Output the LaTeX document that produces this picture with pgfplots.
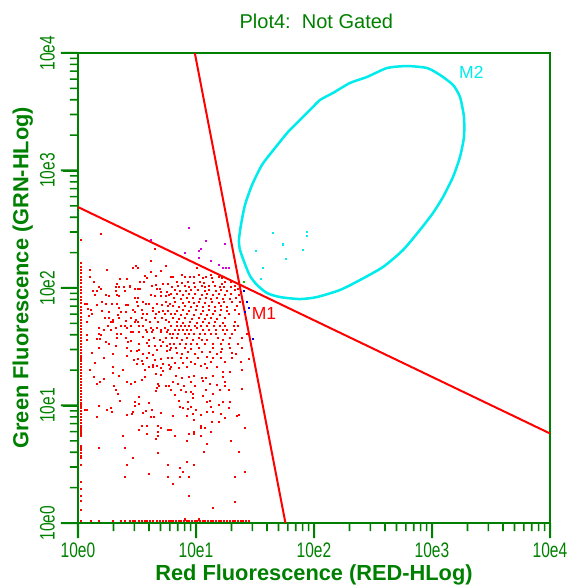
\documentclass[border=0pt]{standalone}
\usepackage{pgfplots}
\pgfplotsset{compat=1.18}
\usepackage{fontspec}
\setmainfont{Liberation Sans}
\newfontfamily\narrowsans[FakeStretch=0.74]{Liberation Sans}
\definecolor{grn}{RGB}{0,128,0}
\definecolor{gatecyan}{RGB}{0,235,235}
\definecolor{dotmag}{RGB}{210,0,210}
\definecolor{dotblue}{RGB}{0,0,220}
\definecolor{dotgrn}{RGB}{0,200,0}

% dot plot, both axes in decades (0 = 10e0 ... 4 = 10e4)
\pgfplotstableread{
lx ly
0.198 2.457
0.650 2.329
0.622 2.230
0.492 2.190
0.508 2.167
0.463 2.167
0.243 2.153
0.105 2.153
0.746 2.190
0.706 2.145
0.616 2.136
0.102 2.091
0.785 2.091
0.661 2.105
0.571 2.099
0.588 2.082
0.356 2.077
0.418 2.080
0.525 2.048
0.557 2.048
0.441 2.020
0.441 2.009
0.328 2.031
0.322 2.009
0.350 2.009
0.136 2.048
0.181 2.009
0.198 1.992
0.390 2.009
0.486 1.992
0.508 1.992
0.525 1.992
0.627 2.020
0.661 2.026
0.667 1.992
0.695 1.992
0.723 2.031
0.763 2.037
0.124 1.975
0.158 1.975
0.322 1.975
0.396 1.975
0.701 1.969
0.751 1.969
0.141 1.940
0.237 1.940
0.260 1.935
0.328 1.940
0.345 1.929
0.486 1.912
0.508 1.912
0.622 1.940
0.650 1.935
0.701 1.929
0.746 1.929
0.768 1.940
0.057 1.867
0.079 1.867
0.164 1.855
0.203 1.884
0.237 1.867
0.288 1.867
0.328 1.867
0.345 1.833
0.407 1.855
0.424 1.855
0.503 1.878
0.508 1.844
0.548 1.884
0.576 1.867
0.605 1.867
0.638 1.833
0.672 1.867
0.712 1.855
0.746 1.884
0.763 1.850
0.780 1.867
0.085 1.821
0.113 1.810
0.119 1.782
0.203 1.804
0.266 1.799
0.339 1.770
0.362 1.793
0.407 1.793
0.463 1.810
0.486 1.793
0.542 1.810
0.554 1.776
0.582 1.782
0.633 1.804
0.661 1.776
0.684 1.799
0.718 1.804
0.740 1.776
0.763 1.804
0.785 1.776
0.096 1.765
0.226 1.748
0.260 1.748
0.294 1.731
0.345 1.748
0.452 1.742
0.492 1.731
0.508 1.708
0.542 1.748
0.576 1.731
0.610 1.714
0.655 1.748
0.678 1.714
0.712 1.742
0.746 1.731
0.774 1.708
0.079 1.708
0.277 1.714
0.299 1.708
0.407 1.719
0.480 1.708
1.006 2.173
0.802 2.093
0.881 2.110
0.904 2.093
0.949 2.093
0.983 2.093
1.029 2.110
1.062 2.082
1.085 2.093
1.130 2.110
1.136 2.082
1.198 2.093
1.221 2.082
0.836 2.048
0.881 2.042
0.933 2.048
0.983 2.042
1.034 2.054
1.068 2.042
1.147 2.048
1.221 2.037
1.249 2.054
1.300 2.048
0.797 2.008
0.848 2.014
0.910 2.014
0.938 2.008
0.995 2.008
1.051 2.020
1.079 2.008
1.107 2.014
1.164 2.014
1.204 2.008
1.238 2.008
1.294 2.008
1.328 2.020
0.819 1.980
0.864 1.974
0.916 1.974
0.961 1.980
1.017 1.980
1.074 1.974
1.107 1.980
1.170 1.974
1.209 1.980
1.266 1.974
1.334 1.980
1.356 1.991
0.791 1.946
0.842 1.946
0.893 1.940
0.944 1.946
0.995 1.946
1.051 1.940
1.096 1.946
1.142 1.940
1.192 1.946
1.243 1.940
1.300 1.946
1.367 1.940
0.814 1.912
0.876 1.906
0.927 1.912
0.978 1.912
1.034 1.906
1.085 1.912
1.125 1.906
1.175 1.912
1.232 1.906
1.289 1.906
1.339 1.912
0.825 1.878
0.887 1.872
0.938 1.878
0.983 1.872
1.023 1.878
1.074 1.872
1.136 1.878
1.192 1.872
1.238 1.878
1.305 1.884
1.373 1.878
0.808 1.844
0.859 1.838
0.910 1.844
0.961 1.838
1.012 1.844
1.062 1.838
1.113 1.844
1.164 1.838
1.215 1.844
1.266 1.838
1.345 1.844
0.842 1.804
0.893 1.810
0.944 1.804
1.000 1.810
1.057 1.804
1.107 1.810
1.159 1.804
1.209 1.810
1.260 1.804
1.334 1.810
0.825 1.776
0.876 1.770
0.927 1.776
0.983 1.770
1.040 1.776
1.091 1.770
1.142 1.776
1.204 1.770
1.277 1.776
1.362 1.776
0.808 1.742
0.859 1.736
0.910 1.742
0.966 1.736
1.023 1.742
1.074 1.736
1.130 1.742
1.181 1.736
1.243 1.742
0.836 1.708
0.893 1.702
0.949 1.708
1.006 1.702
1.062 1.708
1.113 1.702
1.164 1.708
1.232 1.702
1.334 1.708
0.181 1.662
0.220 1.645
0.254 1.679
0.277 1.645
0.322 1.662
0.362 1.679
0.396 1.679
0.418 1.662
0.446 1.679
0.514 1.679
0.548 1.679
0.576 1.645
0.616 1.662
0.638 1.645
0.672 1.662
0.706 1.645
0.735 1.662
0.763 1.645
0.079 1.600
0.181 1.606
0.198 1.600
0.328 1.611
0.362 1.606
0.446 1.628
0.463 1.623
0.520 1.628
0.588 1.628
0.627 1.628
0.706 1.623
0.751 1.628
0.780 1.606
0.079 1.555
0.164 1.566
0.186 1.566
0.333 1.577
0.407 1.577
0.452 1.549
0.548 1.583
0.605 1.555
0.644 1.572
0.695 1.560
0.746 1.572
0.237 1.543
0.266 1.526
0.424 1.543
0.520 1.526
0.582 1.532
0.723 1.537
0.780 1.520
0.322 1.503
0.418 1.486
0.605 1.503
0.650 1.509
0.706 1.503
0.751 1.503
0.181 1.486
0.446 1.464
0.503 1.464
0.520 1.469
0.672 1.469
0.757 1.464
0.780 1.469
0.119 1.447
0.294 1.441
0.548 1.441
0.605 1.447
0.638 1.430
0.418 1.418
0.582 1.401
0.706 1.396
0.763 1.407
0.220 1.401
0.475 1.390
0.508 1.396
0.542 1.379
0.655 1.384
0.141 1.362
0.497 1.350
0.548 1.350
0.633 1.345
0.723 1.356
0.774 1.345
0.299 1.328
0.605 1.328
0.638 1.328
0.672 1.333
0.706 1.322
0.780 1.311
0.102 1.299
0.379 1.305
0.565 1.305
0.723 1.294
0.294 1.276
0.661 1.265
0.706 1.259
0.136 1.242
0.220 1.225
0.350 1.254
0.565 1.242
0.542 1.220
0.158 1.186
0.186 1.203
0.418 1.203
0.452 1.186
0.480 1.197
0.678 1.186
0.746 1.163
0.768 1.169
0.684 1.169
0.305 1.169
0.672 1.146
0.322 1.135
0.661 1.123
0.339 1.095
0.356 1.038
0.486 1.032
0.514 1.072
0.599 1.021
0.062 0.959
0.079 0.959
0.181 0.993
0.249 0.964
0.277 0.976
0.288 0.947
0.480 0.993
0.520 1.015
0.463 0.947
0.418 0.919
0.458 0.925
0.548 0.936
0.576 0.953
0.627 0.959
0.706 0.936
0.164 0.902
0.622 0.902
0.644 0.902
0.791 1.679
0.842 1.679
0.876 1.679
0.910 1.679
0.944 1.679
0.995 1.679
1.046 1.679
1.096 1.679
1.153 1.679
1.204 1.679
1.249 1.679
1.322 1.679
0.820 1.645
0.859 1.645
0.893 1.645
0.927 1.645
0.961 1.645
1.006 1.657
1.063 1.645
1.113 1.645
1.170 1.645
1.226 1.645
1.266 1.645
1.334 1.645
1.356 1.674
0.808 1.611
0.848 1.611
0.904 1.611
0.944 1.611
0.983 1.611
1.034 1.611
1.074 1.611
1.125 1.611
1.170 1.611
1.243 1.611
1.305 1.611
0.797 1.572
0.836 1.572
0.882 1.555
0.927 1.572
0.972 1.560
1.023 1.572
1.051 1.555
1.096 1.560
1.187 1.572
1.226 1.555
1.289 1.572
1.390 1.572
1.435 1.606
0.814 1.520
0.865 1.520
0.916 1.526
0.955 1.520
1.006 1.526
1.074 1.526
1.142 1.526
1.209 1.520
1.277 1.520
1.356 1.526
0.786 1.486
0.831 1.486
0.904 1.486
0.961 1.481
1.029 1.486
1.147 1.486
1.221 1.481
1.289 1.486
1.390 1.486
0.842 1.447
0.882 1.441
0.933 1.452
0.989 1.441
1.051 1.452
1.119 1.458
1.176 1.441
1.209 1.452
1.305 1.447
1.339 1.441
0.797 1.407
0.870 1.407
0.921 1.401
1.017 1.407
1.091 1.413
1.147 1.401
1.215 1.407
1.305 1.401
1.452 1.396
0.820 1.362
0.887 1.362
0.955 1.367
0.995 1.356
1.074 1.356
1.125 1.367
1.243 1.367
1.379 1.367
0.791 1.328
0.859 1.322
0.921 1.328
1.040 1.333
1.091 1.322
1.176 1.328
1.232 1.288
1.289 1.282
1.390 1.305
0.831 1.248
0.882 1.231
0.938 1.242
0.983 1.248
1.051 1.237
1.085 1.231
1.142 1.254
1.232 1.242
0.808 1.203
0.848 1.186
0.899 1.169
0.961 1.197
0.995 1.163
1.057 1.208
1.119 1.186
1.176 1.174
1.249 1.203
1.243 1.163
0.786 1.135
0.870 1.129
0.916 1.118
0.955 1.118
1.085 1.135
1.204 1.135
1.277 1.129
1.390 1.140
0.825 1.089
0.978 1.095
1.142 1.095
1.063 1.083
0.853 1.038
0.933 1.032
0.972 1.066
1.091 1.032
1.119 1.038
1.226 1.027
1.289 1.027
0.865 0.987
0.887 0.981
0.933 0.970
0.961 0.987
1.000 0.964
1.125 0.987
1.198 1.001
1.283 0.976
0.803 0.907
0.921 0.907
0.978 0.925
1.046 0.919
1.096 0.942
1.147 0.942
1.209 0.925
1.249 0.891
1.351 0.913
1.368 0.919
0.983 0.874
1.136 0.862
1.192 0.857
0.542 0.828
0.588 0.828
0.678 0.828
0.706 0.811
0.520 0.794
0.588 0.755
0.678 0.772
0.780 0.794
0.763 0.794
0.384 0.738
0.678 0.738
0.661 0.715
0.181 0.635
0.401 0.635
0.678 0.596
0.463 0.550
0.418 0.494
0.763 0.494
0.605 0.414
0.401 0.392
0.763 0.392
0.786 0.794
1.046 0.828
1.046 0.811
1.074 0.811
1.413 0.811
0.825 0.738
0.944 0.755
0.983 0.772
0.983 0.755
1.130 0.772
1.046 0.738
0.927 0.698
1.091 0.675
1.294 0.698
1.068 0.607
1.368 0.607
0.927 0.516
0.983 0.494
0.865 0.471
0.887 0.431
1.413 0.431
0.865 0.389
0.944 0.389
1.334 0.389
0.808 0.329
0.944 0.227
1.334 0.182
1.147 0.125
0.910 0.030
1.029 0.030
}\reddots

% events piled up on the lowest channel of either axis
\pgfplotstableread{
lx ly
0.022 2.409
0.022 2.210
0.022 2.182
0.022 2.153
0.022 2.125
0.022 2.097
0.022 2.068
0.022 2.040
0.022 2.011
0.022 1.983
0.022 1.955
0.022 1.926
0.022 1.898
0.022 1.870
0.022 1.841
0.022 1.813
0.022 1.785
0.022 1.756
0.022 1.728
0.022 1.699
0.022 1.675
0.022 1.650
0.022 1.625
0.022 1.600
0.022 1.575
0.022 1.550
0.022 1.525
0.022 1.500
0.022 1.475
0.022 1.450
0.022 1.425
0.022 1.400
0.022 1.375
0.022 1.350
0.022 1.325
0.022 1.300
0.022 1.275
0.022 1.250
0.022 1.225
0.022 1.200
0.022 1.175
0.022 1.150
0.022 1.125
0.022 1.100
0.022 1.075
0.022 1.050
0.022 1.025
0.022 1.000
0.022 0.975
0.022 0.950
0.022 0.925
0.022 0.900
0.022 0.875
0.022 0.850
0.022 0.828
0.022 0.811
0.022 0.794
0.022 0.777
0.022 0.760
0.022 0.743
0.022 0.652
0.022 0.635
0.022 0.618
0.022 0.596
0.022 0.573
0.022 0.550
0.022 0.494
0.022 0.352
0.022 0.289
0.022 0.227
0.022 0.187
0.022 0.108
0.022 0.016
0.107 0.016
0.181 0.016
0.299 0.016
0.362 0.016
0.401 0.016
0.441 0.016
0.463 0.016
0.486 0.016
0.520 0.016
0.542 0.016
0.565 0.016
0.588 0.016
0.610 0.016
0.638 0.016
0.667 0.016
0.695 0.016
0.723 0.016
0.746 0.016
0.768 0.016
0.785 0.016
0.808 0.016
0.831 0.016
0.853 0.016
0.876 0.016
0.899 0.016
0.921 0.016
0.944 0.016
0.966 0.016
0.989 0.016
1.012 0.016
1.034 0.016
1.057 0.016
1.079 0.016
1.102 0.016
1.125 0.016
1.147 0.016
1.170 0.016
1.192 0.016
1.215 0.016
1.238 0.016
1.266 0.016
1.289 0.016
1.311 0.016
1.334 0.016
1.356 0.016
1.379 0.016
1.401 0.016
1.424 0.016
1.452 0.016
}\edgedots

% M2 gate outline
\pgfplotstableread{
lx ly
2.788 3.889
2.958 3.872
3.068 3.813
3.178 3.728
3.237 3.626
3.271 3.455
3.271 3.285
3.237 3.115
3.178 2.945
3.093 2.774
3.008 2.638
2.898 2.494
2.754 2.323
2.585 2.179
2.390 2.068
2.220 1.983
2.025 1.923
1.881 1.906
1.712 1.923
1.602 1.957
1.517 2.026
1.458 2.102
1.415 2.204
1.373 2.323
1.364 2.409
1.381 2.536
1.415 2.706
1.475 2.877
1.559 3.047
1.669 3.191
1.780 3.328
1.881 3.430
1.966 3.515
2.051 3.600
2.161 3.660
2.305 3.745
2.449 3.796
2.619 3.872
}\gatemtwo

\begin{document}
\begin{tikzpicture}
\path[use as bounding box] (-78pt,-64pt) rectangle (497pt,523pt);
\begin{axis}[
    at={(0pt,0pt)}, anchor=south west,
    scale only axis, width=472pt, height=470pt,
    xmin=0, xmax=4, ymin=0, ymax=4,
    clip=false,
    axis line style={grn, line width=2pt},
    xtick align=outside, ytick align=outside,
    xtick pos=bottom, ytick pos=left,
    major tick length=15pt, minor tick length=8pt,
    major tick style={draw=grn, line width=2pt},
    minor tick style={draw=grn, line width=1.6pt},
    xtick={0,1,2,3,4}, ytick={0,1,2,3,4},
    xticklabels={10e0,10e1,10e2,10e3,10e4},
    yticklabels={10e0,10e1,10e2,10e3,10e4},
    tick label style={font=\narrowsans\fontsize{21}{21}\selectfont, text=grn, inner sep=0pt},
    xticklabel style={anchor=north},
    yticklabel style={rotate=90, anchor=south},
    xticklabel shift=5pt, yticklabel shift=8pt,
    title={Plot4:\ \ Not Gated},
    every axis title/.style={at={(axis description cs:0.505,1.053)}, anchor=base,
        font=\fontsize{20}{20}\selectfont, text=grn, inner sep=0pt},
    xlabel={Red Fluorescence (RED-HLog)},
    every axis x label/.style={at={(axis description cs:0.5,-0.1234)}, anchor=base,
        font=\bfseries\fontsize{21.8}{22}\selectfont, text=grn, inner sep=0pt},
    ylabel={Green Fluorescence (GRN-HLog)},
    every axis y label/.style={at={(axis description cs:-0.1049,0.522)}, rotate=90, anchor=base,
        font=\bfseries\fontsize{21.8}{22}\selectfont, text=grn, inner sep=0pt},
]
% events
\addplot[red, only marks, mark=square*, mark size=0.55pt, mark options={solid, fill=red, draw=red, line width=0pt}]
    table[x=lx, y=ly] {\reddots};
\addplot[red, only marks, mark=square*, mark size=0.55pt, mark options={solid, fill=red, draw=red, line width=0pt}]
    table[x=lx, y=ly] {\edgedots};
\addplot[dotmag, only marks, mark=square*, mark size=0.55pt, mark options={solid, fill=dotmag, draw=dotmag, line width=0pt}]
    coordinates {(0.622,2.411) (0.944,2.513) (1.085,2.400) (1.249,2.371) (1.046,2.332)
                 (1.029,2.315) (0.907,2.298) (1.029,2.252) (1.130,2.230) (1.198,2.196)
                 (1.232,2.173) (1.255,2.167) (1.277,2.167)};
\addplot[dotblue, only marks, mark=square*, mark size=0.55pt, mark options={solid, fill=dotblue, draw=dotblue, line width=0pt}]
    coordinates {(1.407,1.974) (1.430,1.884) (1.452,1.827) (1.418,1.798) (1.486,1.566)};
\addplot[dotgrn, only marks, mark=square*, mark size=0.55pt, mark options={solid, fill=dotgrn, draw=dotgrn, line width=0pt}]
    coordinates {(1.407,2.048)};
\addplot[gatecyan, only marks, mark=square*, mark size=0.55pt, mark options={solid, fill=gatecyan, draw=gatecyan, line width=0pt}]
    coordinates {(1.509,2.315) (1.571,2.167) (1.554,2.076) (1.94,2.48) (1.94,2.44)
                 (1.91,2.32) (1.65,2.47) (1.74,2.37) (1.76,2.25)};
% M2 gate
\addplot[gatecyan, line width=2.5pt, smooth cycle, tension=0.4] table[x=lx, y=ly] {\gatemtwo};
% M1 quadrant lines
\addplot[red, line width=2pt] coordinates {(0.990,4) (1.758,0)};
\addplot[red, line width=2pt] coordinates {(0,2.689) (4,0.762)};
\node[anchor=west, inner sep=0pt, text=red, font=\fontsize{17.5}{17.5}\selectfont]
    at (axis cs:1.472,1.779) {M1};
\node[anchor=west, inner sep=0pt, text=gatecyan, font=\fontsize{17.5}{17.5}\selectfont]
    at (axis cs:3.229,3.838) {M2};
\end{axis}
% log ticks as filled bars (box is 472pt x 470pt: a decade is 118pt across and 117.5pt up)
\fill[grn]
  (0pt,0pt) ++(-1pt,-15pt) rectangle ++(2pt,15pt)
  (118pt,0pt) ++(-1pt,-15pt) rectangle ++(2pt,15pt)
  (236pt,0pt) ++(-1pt,-15pt) rectangle ++(2pt,15pt)
  (354pt,0pt) ++(-1pt,-15pt) rectangle ++(2pt,15pt)
  (472pt,0pt) ++(-1pt,-15pt) rectangle ++(2pt,15pt)
  (0pt,0pt) ++(-17pt,-1pt) rectangle ++(17pt,2pt)
  (0pt,117.5pt) ++(-17pt,-1pt) rectangle ++(17pt,2pt)
  (0pt,235pt) ++(-17pt,-1pt) rectangle ++(17pt,2pt)
  (0pt,352.5pt) ++(-17pt,-1pt) rectangle ++(17pt,2pt)
  (0pt,470pt) ++(-17pt,-1pt) rectangle ++(17pt,2pt);
\fill[grn]
  (35.5pt,0pt) ++(-0.8pt,-8pt) rectangle ++(1.6pt,8pt)
  (56.3pt,0pt) ++(-0.8pt,-8pt) rectangle ++(1.6pt,8pt)
  (71.0pt,0pt) ++(-0.8pt,-8pt) rectangle ++(1.6pt,8pt)
  (82.5pt,0pt) ++(-0.8pt,-8pt) rectangle ++(1.6pt,8pt)
  (91.8pt,0pt) ++(-0.8pt,-8pt) rectangle ++(1.6pt,8pt)
  (99.7pt,0pt) ++(-0.8pt,-8pt) rectangle ++(1.6pt,8pt)
  (106.6pt,0pt) ++(-0.8pt,-8pt) rectangle ++(1.6pt,8pt)
  (112.6pt,0pt) ++(-0.8pt,-8pt) rectangle ++(1.6pt,8pt)
  (153.5pt,0pt) ++(-0.8pt,-8pt) rectangle ++(1.6pt,8pt)
  (174.3pt,0pt) ++(-0.8pt,-8pt) rectangle ++(1.6pt,8pt)
  (189.0pt,0pt) ++(-0.8pt,-8pt) rectangle ++(1.6pt,8pt)
  (200.5pt,0pt) ++(-0.8pt,-8pt) rectangle ++(1.6pt,8pt)
  (209.8pt,0pt) ++(-0.8pt,-8pt) rectangle ++(1.6pt,8pt)
  (217.7pt,0pt) ++(-0.8pt,-8pt) rectangle ++(1.6pt,8pt)
  (224.6pt,0pt) ++(-0.8pt,-8pt) rectangle ++(1.6pt,8pt)
  (230.6pt,0pt) ++(-0.8pt,-8pt) rectangle ++(1.6pt,8pt)
  (271.5pt,0pt) ++(-0.8pt,-8pt) rectangle ++(1.6pt,8pt)
  (292.3pt,0pt) ++(-0.8pt,-8pt) rectangle ++(1.6pt,8pt)
  (307.0pt,0pt) ++(-0.8pt,-8pt) rectangle ++(1.6pt,8pt)
  (318.5pt,0pt) ++(-0.8pt,-8pt) rectangle ++(1.6pt,8pt)
  (327.8pt,0pt) ++(-0.8pt,-8pt) rectangle ++(1.6pt,8pt)
  (335.7pt,0pt) ++(-0.8pt,-8pt) rectangle ++(1.6pt,8pt)
  (342.6pt,0pt) ++(-0.8pt,-8pt) rectangle ++(1.6pt,8pt)
  (348.6pt,0pt) ++(-0.8pt,-8pt) rectangle ++(1.6pt,8pt)
  (389.5pt,0pt) ++(-0.8pt,-8pt) rectangle ++(1.6pt,8pt)
  (410.3pt,0pt) ++(-0.8pt,-8pt) rectangle ++(1.6pt,8pt)
  (425.0pt,0pt) ++(-0.8pt,-8pt) rectangle ++(1.6pt,8pt)
  (436.5pt,0pt) ++(-0.8pt,-8pt) rectangle ++(1.6pt,8pt)
  (445.8pt,0pt) ++(-0.8pt,-8pt) rectangle ++(1.6pt,8pt)
  (453.7pt,0pt) ++(-0.8pt,-8pt) rectangle ++(1.6pt,8pt)
  (460.6pt,0pt) ++(-0.8pt,-8pt) rectangle ++(1.6pt,8pt)
  (466.6pt,0pt) ++(-0.8pt,-8pt) rectangle ++(1.6pt,8pt)
  (0pt,35.4pt) ++(-8pt,-0.8pt) rectangle ++(8pt,1.6pt)
  (0pt,56.0pt) ++(-8pt,-0.8pt) rectangle ++(8pt,1.6pt)
  (0pt,70.7pt) ++(-8pt,-0.8pt) rectangle ++(8pt,1.6pt)
  (0pt,82.1pt) ++(-8pt,-0.8pt) rectangle ++(8pt,1.6pt)
  (0pt,91.4pt) ++(-8pt,-0.8pt) rectangle ++(8pt,1.6pt)
  (0pt,99.3pt) ++(-8pt,-0.8pt) rectangle ++(8pt,1.6pt)
  (0pt,106.1pt) ++(-8pt,-0.8pt) rectangle ++(8pt,1.6pt)
  (0pt,112.1pt) ++(-8pt,-0.8pt) rectangle ++(8pt,1.6pt)
  (0pt,152.9pt) ++(-8pt,-0.8pt) rectangle ++(8pt,1.6pt)
  (0pt,173.5pt) ++(-8pt,-0.8pt) rectangle ++(8pt,1.6pt)
  (0pt,188.2pt) ++(-8pt,-0.8pt) rectangle ++(8pt,1.6pt)
  (0pt,199.6pt) ++(-8pt,-0.8pt) rectangle ++(8pt,1.6pt)
  (0pt,208.9pt) ++(-8pt,-0.8pt) rectangle ++(8pt,1.6pt)
  (0pt,216.8pt) ++(-8pt,-0.8pt) rectangle ++(8pt,1.6pt)
  (0pt,223.6pt) ++(-8pt,-0.8pt) rectangle ++(8pt,1.6pt)
  (0pt,229.6pt) ++(-8pt,-0.8pt) rectangle ++(8pt,1.6pt)
  (0pt,270.4pt) ++(-8pt,-0.8pt) rectangle ++(8pt,1.6pt)
  (0pt,291.0pt) ++(-8pt,-0.8pt) rectangle ++(8pt,1.6pt)
  (0pt,305.7pt) ++(-8pt,-0.8pt) rectangle ++(8pt,1.6pt)
  (0pt,317.1pt) ++(-8pt,-0.8pt) rectangle ++(8pt,1.6pt)
  (0pt,326.4pt) ++(-8pt,-0.8pt) rectangle ++(8pt,1.6pt)
  (0pt,334.3pt) ++(-8pt,-0.8pt) rectangle ++(8pt,1.6pt)
  (0pt,341.1pt) ++(-8pt,-0.8pt) rectangle ++(8pt,1.6pt)
  (0pt,347.1pt) ++(-8pt,-0.8pt) rectangle ++(8pt,1.6pt)
  (0pt,387.9pt) ++(-8pt,-0.8pt) rectangle ++(8pt,1.6pt)
  (0pt,408.5pt) ++(-8pt,-0.8pt) rectangle ++(8pt,1.6pt)
  (0pt,423.2pt) ++(-8pt,-0.8pt) rectangle ++(8pt,1.6pt)
  (0pt,434.6pt) ++(-8pt,-0.8pt) rectangle ++(8pt,1.6pt)
  (0pt,443.9pt) ++(-8pt,-0.8pt) rectangle ++(8pt,1.6pt)
  (0pt,451.8pt) ++(-8pt,-0.8pt) rectangle ++(8pt,1.6pt)
  (0pt,458.6pt) ++(-8pt,-0.8pt) rectangle ++(8pt,1.6pt)
  (0pt,464.6pt) ++(-8pt,-0.8pt) rectangle ++(8pt,1.6pt);
\end{tikzpicture}
\end{document}
